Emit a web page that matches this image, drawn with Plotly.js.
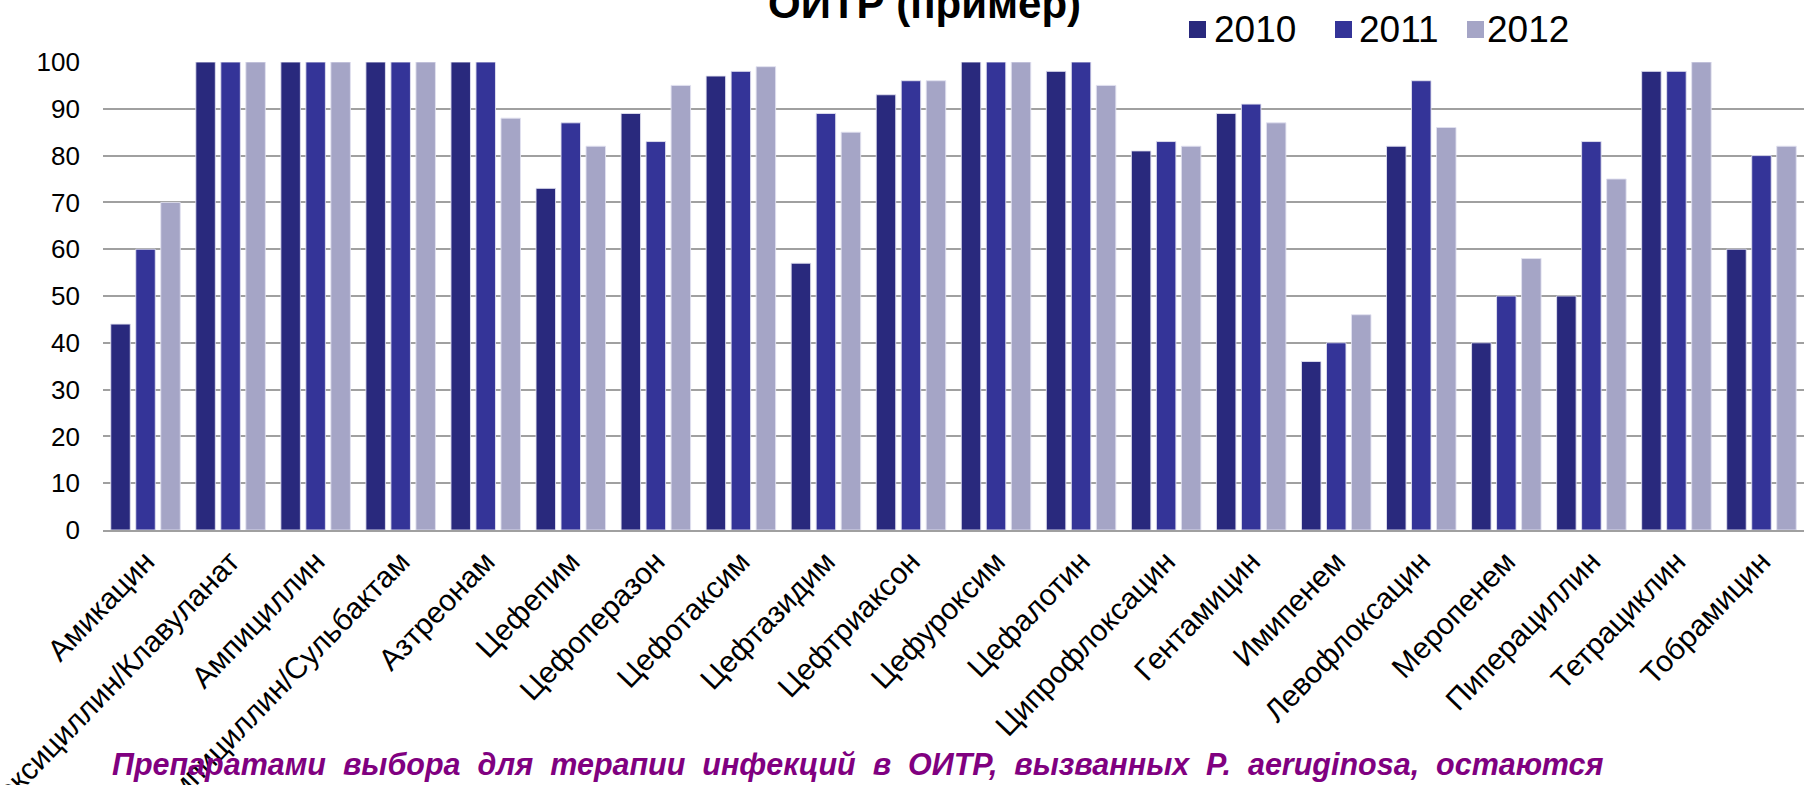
<!DOCTYPE html>
<html>
<head>
<meta charset="utf-8">
<script src="https://cdn.plot.ly/plotly-3.0.1.min.js"></script>
<style>
html,body{margin:0;padding:0;background:#fff;overflow:hidden;}
#chart{width:1806px;height:785px;}
</style>
</head>
<body>
<div id="chart"></div>
<script>
var categories = ["Амикацин","Амоксициллин/Клавуланат","Ампициллин","Ампициллин/Сульбактам","Азтреонам","Цефепим","Цефоперазон","Цефотаксим","Цефтазидим","Цефтриаксон","Цефуроксим","Цефалотин","Ципрофлоксацин","Гентамицин","Имипенем","Левофлоксацин","Меропенем","Пиперациллин","Тетрациклин","Тобрамицин"];
var values2010 = [44,100,100,100,100,73,89,97,57,93,100,98,81,89,36,82,40,50,98,60];
var values2011 = [60,100,100,100,100,87,83,98,89,96,100,100,83,91,40,96,50,83,98,80];
var values2012 = [70,100,100,100,88,82,95,99,85,96,100,95,82,87,46,86,58,75,100,82];
var seriesNames = ["2010","2011","2012"];
var seriesColors = ["#29297d","#343498","#a5a5c6"];
var yTicks = [0,10,20,30,40,50,60,70,80,90,100];
var titleText = "ОИТР (пример)";
var noteText = "Препаратами  выбора  для  терапии  инфекций  в  ОИТР,  вызванных  P.  aeruginosa,  остаются";

// plot area in pixels (for converting legend layout positions to paper units)
var PL = 103, PW = 1701, PT = 62, PH = 468;
function px2x(p){ return (p - PL) / PW; }
function py2y(p){ return 1 - (p - PT) / PH; }

var allValues = [values2010, values2011, values2012];
var traces = allValues.map(function(v, i){
  return {
    type: "bar",
    name: seriesNames[i],
    x: categories,
    y: v,
    marker: {color: seriesColors[i], line: {color: "rgba(225,225,240,0.9)", width: 1}}
  };
});

// custom legend (squares + labels) placed above the plot
var legendSquareLeft = [1189, 1335, 1467];
var legendTextLeft = [1212, 1357, 1485];
var shapes = [];
var annotations = [];
seriesNames.forEach(function(name, i){
  shapes.push({type: "rect", xref: "paper", yref: "paper",
    x0: px2x(legendSquareLeft[i]), x1: px2x(legendSquareLeft[i] + 17),
    y0: py2y(38), y1: py2y(21),
    fillcolor: seriesColors[i], line: {width: 0}});
  annotations.push({text: name, xref: "paper", yref: "paper",
    x: px2x(legendTextLeft[i]), y: py2y(29), xanchor: "left", yanchor: "middle",
    showarrow: false, font: {size: 37, color: "#000000"}});
});
annotations.push({text: "<b>" + titleText + "</b>", xref: "paper", yref: "paper", x: px2x(924), y: py2y(3),
  xanchor: "center", yanchor: "middle", showarrow: false,
  font: {size: 42, color: "#000000"}});
annotations.push({text: "<b><i>" + noteText + "</i></b>", xref: "paper", yref: "paper", x: px2x(110), y: py2y(764),
  xanchor: "left", yanchor: "middle", showarrow: false,
  font: {size: 30.5, color: "#800080"}});

var layout = {
  width: 1806, height: 785,
  margin: {l: PL, r: 1806 - PL - PW, t: PT, b: 785 - PT - PH, pad: 0},
  paper_bgcolor: "#ffffff", plot_bgcolor: "#ffffff",
  barmode: "group", bargap: 0.118, bargroupgap: 0.22,
  font: {family: "Liberation Sans, Arial, sans-serif", color: "#000000"},
  showlegend: false,
  xaxis: {
    type: "category", tickangle: -46, automargin: false,
    showgrid: false, showline: true, linecolor: "#a0a0a0", linewidth: 2,
    ticks: "", tickfont: {size: 30, color: "#000000"}, fixedrange: true
  },
  yaxis: {
    range: [0, 100], tickvals: yTicks, ticktext: yTicks.map(String), automargin: false,
    showgrid: true, gridcolor: "#a0a0a0", gridwidth: 2, zeroline: false,
    showline: false, ticks: "", ticklabelstandoff: 22,
    tickfont: {size: 26, color: "#000000"}, fixedrange: true
  },
  shapes: shapes,
  annotations: annotations
};

Plotly.newPlot("chart", traces, layout, {displayModeBar: false, staticPlot: true});
</script>
</body>
</html>
